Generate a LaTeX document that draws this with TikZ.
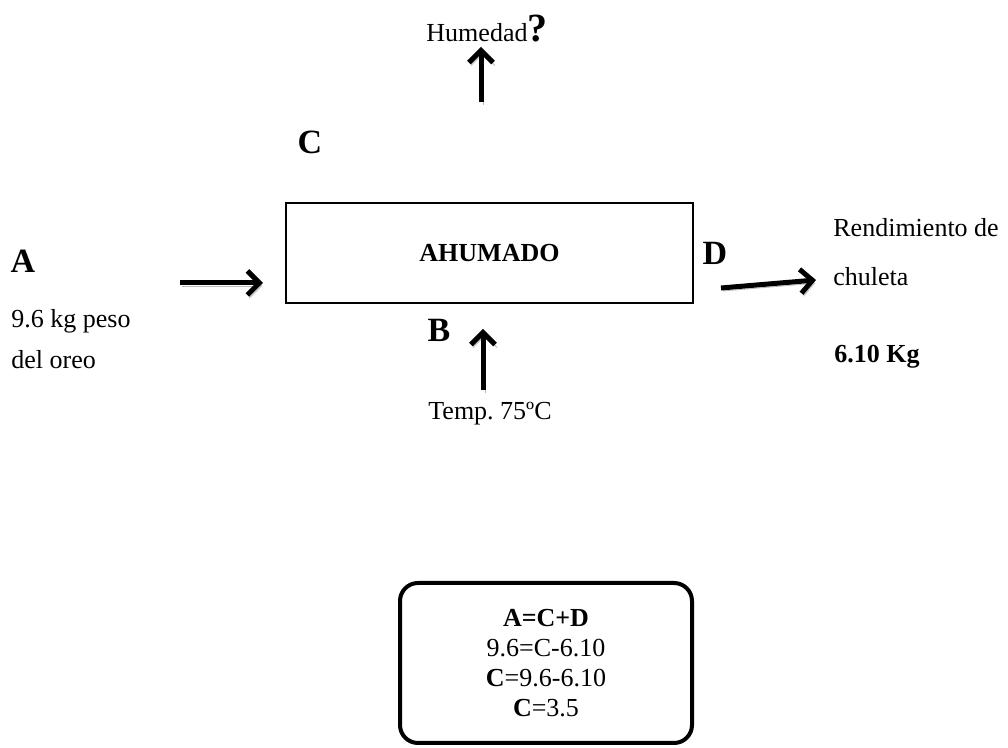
\documentclass[tikz,border=0pt]{standalone}
\usepackage{fontspec}
\setmainfont{Liberation Serif}
\usetikzlibrary{arrows.meta, positioning}
\frenchspacing

\begin{document}
\begin{tikzpicture}[x=0.5pt, y=-0.5pt,
  letra/.style={font=\fontsize{17}{20}\selectfont\bfseries, inner sep=0pt},
  texto/.style={font=\fontsize{13}{15}\selectfont, inner sep=0pt},
  flecha/.style={line width=2.5pt, -{Straight Barb[length=6pt, width=12pt]},
    preaction={draw=gray!55, transform canvas={xshift=1pt, yshift=-1.5pt}}}]
  \useasboundingbox (0,0) rectangle (1008,748);

  % Process box
  \node[draw, line width=0.8pt, minimum width=203.5pt, minimum height=50pt,
        font=\fontsize{13}{15}\selectfont\bfseries] (ahumado) at (489.5,253) {AHUMADO};

  % Input A
  \node[letra] (A) at (23,261) {A};
  \node[texto, anchor=west] (pesoA) at (11,321) {9.6 kg peso};
  \node[texto, anchor=west] (oreo) at (11,360) {del oreo};
  \coordinate (inA) at (180,283);
  \coordinate (inAfin) at (263,283);

  % Output C (humedad)
  \node[letra] (C) at (310,142) {C};
  \node[texto, anchor=base] (humedad) at (487,42) {Humedad{\fontsize{20}{24}\selectfont\bfseries ?}};
  \coordinate (outC) at (481,102);
  \coordinate (outCfin) at (481,47);

  % Input B (temperatura)
  \node[letra] (B) at (439,330) {B};
  \node[texto, anchor=base] (temp) at (490,420) {Temp. 75ºC};
  \coordinate (inB) at (483,390);
  \coordinate (inBfin) at (483,329);

  % Output D (rendimiento)
  \node[letra] (D) at (715,253) {D};
  \node[texto, anchor=west] (rend) at (833,228) {Rendimiento de};
  \node[texto, anchor=west] (chuleta) at (833,277) {chuleta};
  \node[texto, anchor=west, font=\fontsize{13}{15}\selectfont\bfseries] (kg) at (834,357) {6.10 Kg};
  \coordinate (outD) at (721,288);
  \coordinate (outDfin) at (816,280);

  % Arrows
  \draw[flecha] (inA) -- (inAfin);
  \draw[flecha] (outC) -- (outCfin);
  \draw[flecha] (inB) -- (inBfin);
  \draw[flecha] (outD) -- (outDfin);

  % Balance
  \node[draw, line width=2pt, rounded corners=9pt, minimum width=146pt, minimum height=80pt,
        align=center, font=\fontsize{13}{15}\selectfont] (balance) at (546,663)
    {\textbf{A=C+D}\\9.6=C-6.10\\\textbf{C}=9.6-6.10\\\textbf{C}=3.5};
\end{tikzpicture}
\end{document}
